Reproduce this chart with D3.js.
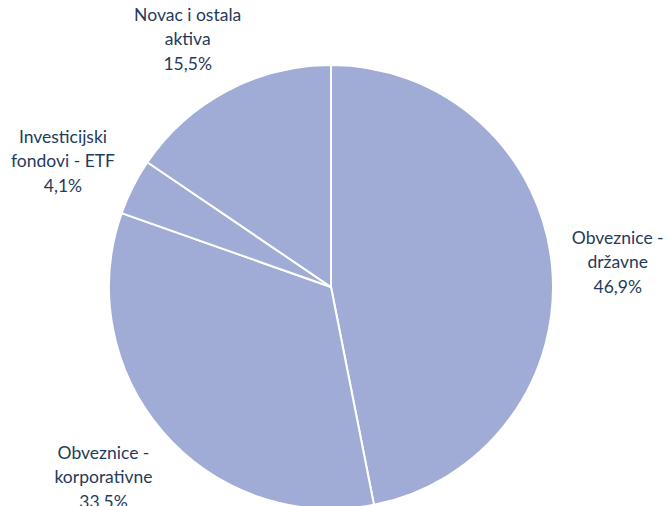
<!DOCTYPE html>
<html>
<head>
<meta charset="utf-8">
<script src="https://cdn.jsdelivr.net/npm/d3@7"></script>
<style>
  body { margin: 0; background: #fff; }
  .label { font-family: Lato, "Open Sans", sans-serif; font-size: 17.5px; fill: #1f3b5c; }
</style>
</head>
<body>
<div id="chart"></div>
<script>
// Chart data: categories (label lines) and their shares in percent.
var labels = [
    ['Obveznice -', 'državne'],
    ['Obveznice -', 'korporativne'],
    ['Investicijski', 'fondovi - ETF'],
    ['Novac i ostala', 'aktiva']
];
var values = [46.9, 33.5, 4.1, 15.5];
var valueText = ['46,9%', '33,5%', '4,1%', '15,5%'];

var width = 668, height = 506;
var cx = 331, cy = 287, radius = 222;

var svg = d3.select('#chart').append('svg')
    .attr('width', width)
    .attr('height', height);

var g = svg.append('g')
    .attr('transform', 'translate(' + cx + ',' + cy + ')');

var pie = d3.pie().sort(null).value(function(d) { return d; });
var arcs = pie(values);

var arc = d3.arc().innerRadius(0).outerRadius(radius);

g.selectAll('path.slice')
    .data(arcs)
    .enter().append('path')
    .attr('class', 'slice')
    .attr('d', arc)
    .attr('fill', '#a0acd5')
    .attr('stroke', '#ffffff')
    .attr('stroke-width', 2);

// Labels: anchor just outside the slice, then push the box away from the pie.
var labelRadius = radius + 20;
var lineHeight = 24.5;
var clamp = function(v) { return Math.max(-1, Math.min(1, v)); };

arcs.forEach(function(a, i) {
    var mid = (a.startAngle + a.endAngle) / 2;
    var px = labelRadius * Math.sin(mid);
    var py = -labelRadius * Math.cos(mid);
    var lines = labels[i].concat([valueText[i]]);

    var t = g.append('text')
        .attr('class', 'label')
        .attr('text-anchor', 'middle');
    lines.forEach(function(line, j) {
        t.append('tspan')
            .attr('x', 0)
            .attr('y', (j - (lines.length - 1) / 2) * lineHeight)
            .attr('dy', '0.52em')
            .text(line);
    });

    var bb = t.node().getBBox();
    var ox = px + clamp(1.2 * Math.sin(mid)) * bb.width / 2;
    var oy = py - clamp(1.2 * Math.cos(mid)) * (lines.length * lineHeight) / 2;
    t.attr('transform', 'translate(' + ox + ',' + oy + ')');
});
</script>
</body>
</html>
